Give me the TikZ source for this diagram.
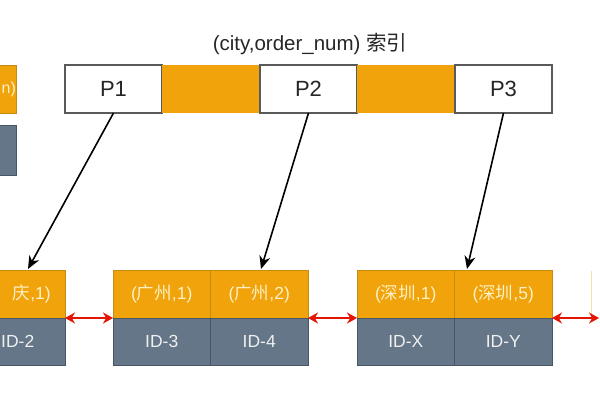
\documentclass[tikz,border=0pt]{standalone}
\usepackage{fontspec}
\setmainfont{Liberation Sans}
\newfontfamily\cjk{Noto Sans CJK SC}
\usetikzlibrary{arrows.meta}
\newcommand{\zh}[1]{{\cjk #1}}
\definecolor{orng}{HTML}{F0A30A}
\definecolor{orngd}{HTML}{C58A12}
\definecolor{slate}{HTML}{647687}
\definecolor{slated}{HTML}{465666}
\definecolor{wbord}{HTML}{5A5A5A}
\definecolor{otext}{HTML}{FFF1C6}
\definecolor{redarr}{HTML}{E51400}
\tikzset{
  box/.style={minimum height=48pt, inner sep=0pt, outer sep=0pt, anchor=north west},
  wbox/.style={box, minimum width=97pt, draw=wbord, fill=white, line width=1.1pt, text=black!85, font=\fontsize{22}{24}\selectfont},
  obar/.style={box, minimum width=98pt, fill=orng},
  ocell/.style={box, minimum width=97.5pt, fill=orng, draw=orngd, line width=0.8pt, text=otext, font=\fontsize{17.5}{20}\selectfont},
  gcell/.style={box, minimum width=97.5pt, minimum height=47pt, fill=slate, draw=slated, line width=0.8pt, text=white!94!black, font=\fontsize{17.5}{20}\selectfont},
  parr/.style={draw=black, line width=1.6pt, -{Stealth[length=13pt,width=11pt]}},
  rarr/.style={draw=redarr, line width=1.8pt, {Stealth[length=10pt,width=11pt]}-{Stealth[length=10pt,width=11pt]}}
}
\begin{document}
\begin{tikzpicture}[x=1pt,y=-1pt]
\useasboundingbox (0,0) rectangle (600,400);
\clip (0,0) rectangle (600,400);
% title
\node[font=\fontsize{20.5}{24}\selectfont, text=black!85] (title) at (310,44) {(city,order\_num) \zh{索引}};
% left partial top boxes
\node[box, minimum width=60pt, fill=orng, draw=orngd, line width=0.8pt] (lo) at (-44,65) {};
\node[anchor=west, inner sep=0pt, text=otext, font=\fontsize{16}{18}\selectfont] (lotext) at (1.5,89) {n)};
\node[box, minimum width=60pt, minimum height=50pt, fill=slate, draw=slated, line width=0.8pt] (lg) at (-44,125) {};
% top row
\node[wbox] (P1) at (65,65) {P1};
\node[obar] (o1) at (162,65) {};
\node[wbox] (P2) at (260,65) {P2};
\node[obar] (o2) at (357,65) {};
\node[wbox] (P3) at (455,65) {P3};
% bottom groups
\node[ocell] (a1) at (-32.5,270) {};
\node[anchor=east, inner sep=0pt, text=otext, font=\fontsize{17.5}{20}\selectfont] (a1text) at (51,294) {\zh{庆},1)};
\node[gcell] (ga1) at (-32.5,318) {};
\node[anchor=west, inner sep=0pt, text=white!94!black, font=\fontsize{17.5}{20}\selectfont] (ga1text) at (1,341.5) {ID-2};
\node[ocell] (b1) at (113,270) {(\zh{广州},1)};
\node[ocell] (b2) at (210.5,270) {(\zh{广州},2)};
\node[gcell] (gb1) at (113,318) {ID-3};
\node[gcell] (gb2) at (210.5,318) {ID-4};
\node[ocell] (c1) at (357,270) {(\zh{深圳},1)};
\node[ocell] (c2) at (454.5,270) {(\zh{深圳},5)};
\node[gcell] (gc1) at (357,318) {ID-X};
\node[gcell] (gc2) at (454.5,318) {ID-Y};
% right partial
\draw[draw=orng!35, line width=1pt] (591.5,271) -- (591.5,321);
% pointers
\coordinate (t1) at (28,269);
\coordinate (t2) at (261,269);
\coordinate (t3) at (467,269);
\draw[parr] (P1.south) -- (t1);
\draw[parr] (P2.south) -- (t2);
\draw[parr] (P3.south) -- (t3);
% sibling links
\coordinate (rend) at (599,318);
\draw[rarr] (a1.south east) -- (b1.south west);
\draw[rarr] (b2.south east) -- (c1.south west);
\draw[rarr] (c2.south east) -- (rend);
\end{tikzpicture}
\end{document}
